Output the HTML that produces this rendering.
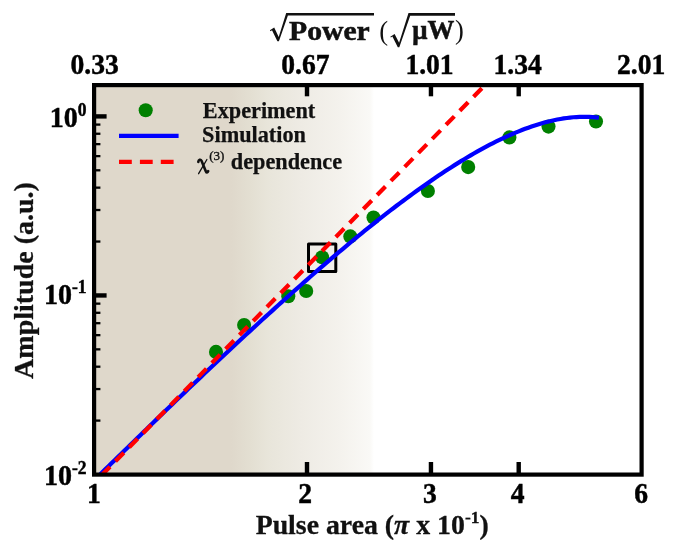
<!DOCTYPE html>
<html><head><meta charset="utf-8"><title>chart</title>
<style>
html,body{margin:0;padding:0;background:#fff;}
svg{display:block;will-change:transform;}
text{font-family:"Liberation Serif",serif;font-weight:bold;fill:#111;}
</style></head>
<body>
<svg width="676" height="551" viewBox="0 0 676 551">
<defs>
<linearGradient id="bg" gradientUnits="userSpaceOnUse" x1="94" y1="0" x2="374" y2="0">
<stop offset="0" stop-color="#dfd8cb"/>
<stop offset="0.49" stop-color="#dfd8cb"/>
<stop offset="0.56" stop-color="#e3dfd2"/>
<stop offset="0.62" stop-color="#e8e5da"/>
<stop offset="0.74" stop-color="#eeebe4"/>
<stop offset="0.88" stop-color="#f4f2ed"/>
<stop offset="0.985" stop-color="#faf9f6"/>
<stop offset="1" stop-color="#ffffff"/>
</linearGradient>
<clipPath id="clip"><rect x="94.1" y="85.1" width="547.5" height="389.5"/></clipPath>
</defs>
<rect x="0" y="0" width="676" height="551" fill="#fff"/>
<rect x="94.1" y="85.1" width="279.9" height="389.5" fill="url(#bg)"/>
<g clip-path="url(#clip)">
<rect x="308.5" y="244" width="27.3" height="27.4" fill="none" stroke="#000" stroke-width="3" stroke-linejoin="round"/>
<g fill="#008000"><circle cx="216.0" cy="351.9" r="7.05"/><circle cx="244.1" cy="325.0" r="7.05"/><circle cx="288.3" cy="296.3" r="7.05"/><circle cx="306.2" cy="291.0" r="7.05"/><circle cx="322.1" cy="257.2" r="7.05"/><circle cx="350.3" cy="236.4" r="7.05"/><circle cx="373.5" cy="217.6" r="7.05"/><circle cx="427.9" cy="191.0" r="7.05"/><circle cx="468.2" cy="167.1" r="7.05"/><circle cx="509.4" cy="137.4" r="7.05"/><circle cx="548.5" cy="126.6" r="7.05"/><circle cx="596.0" cy="121.5" r="7.05"/></g>
<path d="M85.79,488.51 L89.00,485.35 L92.20,482.20 L95.41,479.04 L98.62,475.89 L101.82,472.74 L105.03,469.59 L108.24,466.45 L111.45,463.31 L114.65,460.17 L117.86,457.03 L121.07,453.90 L124.27,450.77 L127.48,447.64 L130.69,444.51 L133.89,441.39 L137.10,438.27 L140.31,435.15 L143.52,432.04 L146.72,428.93 L149.93,425.82 L153.14,422.72 L156.34,419.62 L159.55,416.52 L162.76,413.43 L165.97,410.34 L169.17,407.26 L172.38,404.18 L175.59,401.10 L178.79,398.02 L182.00,394.95 L185.21,391.89 L188.41,388.83 L191.62,385.77 L194.83,382.72 L198.04,379.67 L201.24,376.63 L204.45,373.59 L207.66,370.55 L210.86,367.52 L214.07,364.50 L217.28,361.48 L220.49,358.47 L223.69,355.46 L226.90,352.46 L230.11,349.46 L233.31,346.47 L236.52,343.48 L239.73,340.50 L242.93,337.53 L246.14,334.56 L249.35,331.60 L252.56,328.65 L255.76,325.70 L258.97,322.76 L262.18,319.82 L265.38,316.90 L268.59,313.98 L271.80,311.07 L275.01,308.16 L278.21,305.27 L281.42,302.38 L284.63,299.50 L287.83,296.62 L291.04,293.76 L294.25,290.91 L297.45,288.06 L300.66,285.22 L303.87,282.39 L307.08,279.58 L310.28,276.77 L313.49,273.97 L316.70,271.18 L319.90,268.40 L323.11,265.63 L326.32,262.88 L329.53,260.13 L332.73,257.40 L335.94,254.68 L339.15,251.96 L342.35,249.27 L345.56,246.58 L348.77,243.91 L351.97,241.25 L355.18,238.60 L358.39,235.96 L361.60,233.35 L364.80,230.74 L368.01,228.15 L371.22,225.57 L374.42,223.01 L377.63,220.47 L380.84,217.94 L384.05,215.42 L387.25,212.93 L390.46,210.45 L393.67,207.98 L396.87,205.54 L400.08,203.11 L403.29,200.71 L406.49,198.32 L409.70,195.95 L412.91,193.60 L416.12,191.28 L419.32,188.97 L422.53,186.68 L425.74,184.42 L428.94,182.18 L432.15,179.96 L435.36,177.77 L438.57,175.60 L441.77,173.46 L444.98,171.34 L448.19,169.24 L451.39,167.18 L454.60,165.14 L457.81,163.13 L461.01,161.15 L464.22,159.19 L467.43,157.27 L470.64,155.38 L473.84,153.52 L477.05,151.70 L480.26,149.90 L483.46,148.14 L486.67,146.42 L489.88,144.73 L493.09,143.08 L496.29,141.47 L499.50,139.89 L502.71,138.36 L505.91,136.87 L509.12,135.42 L512.33,134.01 L515.53,132.64 L518.74,131.33 L521.95,130.06 L525.16,128.83 L528.36,127.66 L531.57,126.54 L534.78,125.47 L537.98,124.45 L541.19,123.49 L544.40,122.58 L547.61,121.74 L550.81,120.95 L554.02,120.22 L557.23,119.56 L560.43,118.97 L563.64,118.44 L566.85,117.98 L570.05,117.59 L573.26,117.28 L576.47,117.04 L579.68,116.88 L582.88,116.80 L586.09,116.80 L589.30,116.89 L592.50,117.07 L595.71,117.34 L598.92,117.71" fill="none" stroke="#0000ff" stroke-width="4.2" stroke-linejoin="round"/>
<path d="M481.90,88.32 L88.00,489.11" fill="none" stroke="#ff0000" stroke-width="4.2" stroke-dasharray="11.9 7.75"/>
</g>
<g stroke="#000" stroke-width="4.4"><line x1="307.0" y1="474.6" x2="307.0" y2="462.0"/><line x1="307.0" y1="85.1" x2="307.0" y2="96.3"/><line x1="430.95" y1="474.6" x2="430.95" y2="462.0"/><line x1="430.95" y1="85.1" x2="430.95" y2="96.3"/><line x1="518.7" y1="474.6" x2="518.7" y2="462.0"/><line x1="518.7" y1="85.1" x2="518.7" y2="96.3"/><line x1="94.1" y1="116.40" x2="106.6" y2="116.40"/><line x1="94.1" y1="295.45" x2="106.6" y2="295.45"/></g>
<g stroke="#000" stroke-width="2.3"><line x1="94.1" y1="241.55" x2="100.39999999999999" y2="241.55"/><line x1="94.1" y1="210.02" x2="100.39999999999999" y2="210.02"/><line x1="94.1" y1="187.65" x2="100.39999999999999" y2="187.65"/><line x1="94.1" y1="170.30" x2="100.39999999999999" y2="170.30"/><line x1="94.1" y1="156.12" x2="100.39999999999999" y2="156.12"/><line x1="94.1" y1="144.14" x2="100.39999999999999" y2="144.14"/><line x1="94.1" y1="133.75" x2="100.39999999999999" y2="133.75"/><line x1="94.1" y1="124.59" x2="100.39999999999999" y2="124.59"/><line x1="94.1" y1="420.60" x2="100.39999999999999" y2="420.60"/><line x1="94.1" y1="389.07" x2="100.39999999999999" y2="389.07"/><line x1="94.1" y1="366.70" x2="100.39999999999999" y2="366.70"/><line x1="94.1" y1="349.35" x2="100.39999999999999" y2="349.35"/><line x1="94.1" y1="335.17" x2="100.39999999999999" y2="335.17"/><line x1="94.1" y1="323.19" x2="100.39999999999999" y2="323.19"/><line x1="94.1" y1="312.80" x2="100.39999999999999" y2="312.80"/><line x1="94.1" y1="303.64" x2="100.39999999999999" y2="303.64"/></g>
<rect x="94.1" y="85.1" width="547.5" height="389.5" fill="none" stroke="#000" stroke-width="4.2"/>
<!-- legend -->
<circle cx="145.7" cy="110.2" r="7.05" fill="#008000"/>
<line x1="119" y1="135.8" x2="178.6" y2="135.8" stroke="#0000ff" stroke-width="4.2"/>
<line x1="119" y1="161.9" x2="178.4" y2="161.9" stroke="#ff0000" stroke-width="4.2" stroke-dasharray="12.8 8.1"/>
<g font-size="22.25" stroke="#111" stroke-width="0.25">
<text x="202.8" y="118">Experiment</text>
<text x="202.1" y="142.1">Simulation</text>
<text x="230.8" y="169">dependence</text>
<text x="209.2" y="160.3" font-size="13" style="font-weight:normal" stroke="#111" stroke-width="0.35">(3)</text>
<path d="M198.3,161.9 C198.5,159.7 200.6,158.9 201.5,160.8 L205.9,171.4 C206.5,172.9 207.7,172.8 208.2,171.2" fill="none" stroke="#111" stroke-width="2.6" stroke-linecap="round"/>
<path d="M206.9,159.5 L198.6,173.7" fill="none" stroke="#111" stroke-width="1.3" stroke-linecap="round"/>
</g>
<!-- tick labels -->
<text font-size="28" stroke="#000" stroke-width="0.45" fill="#000" style="fill:#000" text-anchor="middle" transform="translate(94,503.2) scale(0.985,1.06)">1</text>
<text font-size="28" stroke="#000" stroke-width="0.45" fill="#000" style="fill:#000" text-anchor="middle" transform="translate(305.2,503.2) scale(0.985,1.06)">2</text>
<text font-size="28" stroke="#000" stroke-width="0.45" fill="#000" style="fill:#000" text-anchor="middle" transform="translate(429.8,503.2) scale(0.985,1.06)">3</text>
<text font-size="28" stroke="#000" stroke-width="0.45" fill="#000" style="fill:#000" text-anchor="middle" transform="translate(517.6,503.2) scale(0.985,1.06)">4</text>
<text font-size="28" stroke="#000" stroke-width="0.45" fill="#000" style="fill:#000" text-anchor="middle" transform="translate(641.2,503.2) scale(0.985,1.06)">6</text>
<text font-size="28" stroke="#000" stroke-width="0.45" fill="#000" style="fill:#000" text-anchor="middle" transform="translate(94.6,74.3) scale(0.985,1.06)">0.33</text>
<text font-size="28" stroke="#000" stroke-width="0.45" fill="#000" style="fill:#000" text-anchor="middle" transform="translate(305.4,74.3) scale(0.985,1.06)">0.67</text>
<text font-size="28" stroke="#000" stroke-width="0.45" fill="#000" style="fill:#000" text-anchor="middle" transform="translate(429.5,74.3) scale(0.985,1.06)">1.01</text>
<text font-size="28" stroke="#000" stroke-width="0.45" fill="#000" style="fill:#000" text-anchor="middle" transform="translate(517.6,74.3) scale(0.985,1.06)">1.34</text>
<text font-size="28" stroke="#000" stroke-width="0.45" fill="#000" style="fill:#000" text-anchor="middle" transform="translate(641.2,74.3) scale(0.985,1.06)">2.01</text>
<text font-size="28" stroke="#000" stroke-width="0.45" fill="#000" style="fill:#000" text-anchor="end" transform="translate(86.6,127.1) scale(1.0,1.06)">10<tspan font-size="17.5" dy="-10.7">0</tspan></text>
<text font-size="28" stroke="#000" stroke-width="0.45" fill="#000" style="fill:#000" text-anchor="end" transform="translate(86.6,304.2) scale(1.0,1.06)">10<tspan font-size="17.5" dy="-10.3">-1</tspan></text>
<text font-size="28" stroke="#000" stroke-width="0.45" fill="#000" style="fill:#000" text-anchor="end" transform="translate(86.6,485.1) scale(1.0,1.06)">10<tspan font-size="17.5" dy="-10.2">-2</tspan></text>
<text font-size="27.8" stroke="#111" stroke-width="0.3" text-anchor="middle" x="372.2" y="534.4">Pulse area (<tspan font-style="italic">π</tspan> x 10<tspan font-size="17.5" dy="-11.6">-1</tspan><tspan dy="11.6">)</tspan></text>
<text font-size="28" stroke="#111" stroke-width="0.3" text-anchor="middle" transform="translate(32.8,280.5) rotate(-90)">Amplitude (a.u.)</text>
<!-- title -->
<g font-size="26.5">
<text x="289" y="39.6" stroke="#111" stroke-width="0.5" textLength="80.8" lengthAdjust="spacingAndGlyphs">Power</text>
<text x="379.2" y="39.6" font-weight="normal" style="font-weight:normal">(</text>
<text x="412.3" y="39.4" stroke="#111" stroke-width="0.5" textLength="42" lengthAdjust="spacingAndGlyphs">μW</text>
<text x="455" y="39.4" style="font-weight:normal">)</text>
</g>
<g fill="#111" stroke="none">
<path d="M269.9,30.3 L274.2,27.5 L278.7,36.9 L286.2,12.9 L374,12.9 L374,15.6 L287.9,15.6 L278.9,41.2 L277.4,41.2 L272.0,30.2 L270.5,31.2 Z"/>
<path d="M390.3,36.7 L394.6,33.9 L399.1,42.8 L408.5,13.1 L455,13.1 L455,15.8 L410.2,15.8 L399.3,47.2 L397.8,47.2 L392.4,36.6 L390.9,37.6 Z"/>
</g>
</svg>
</body></html>
